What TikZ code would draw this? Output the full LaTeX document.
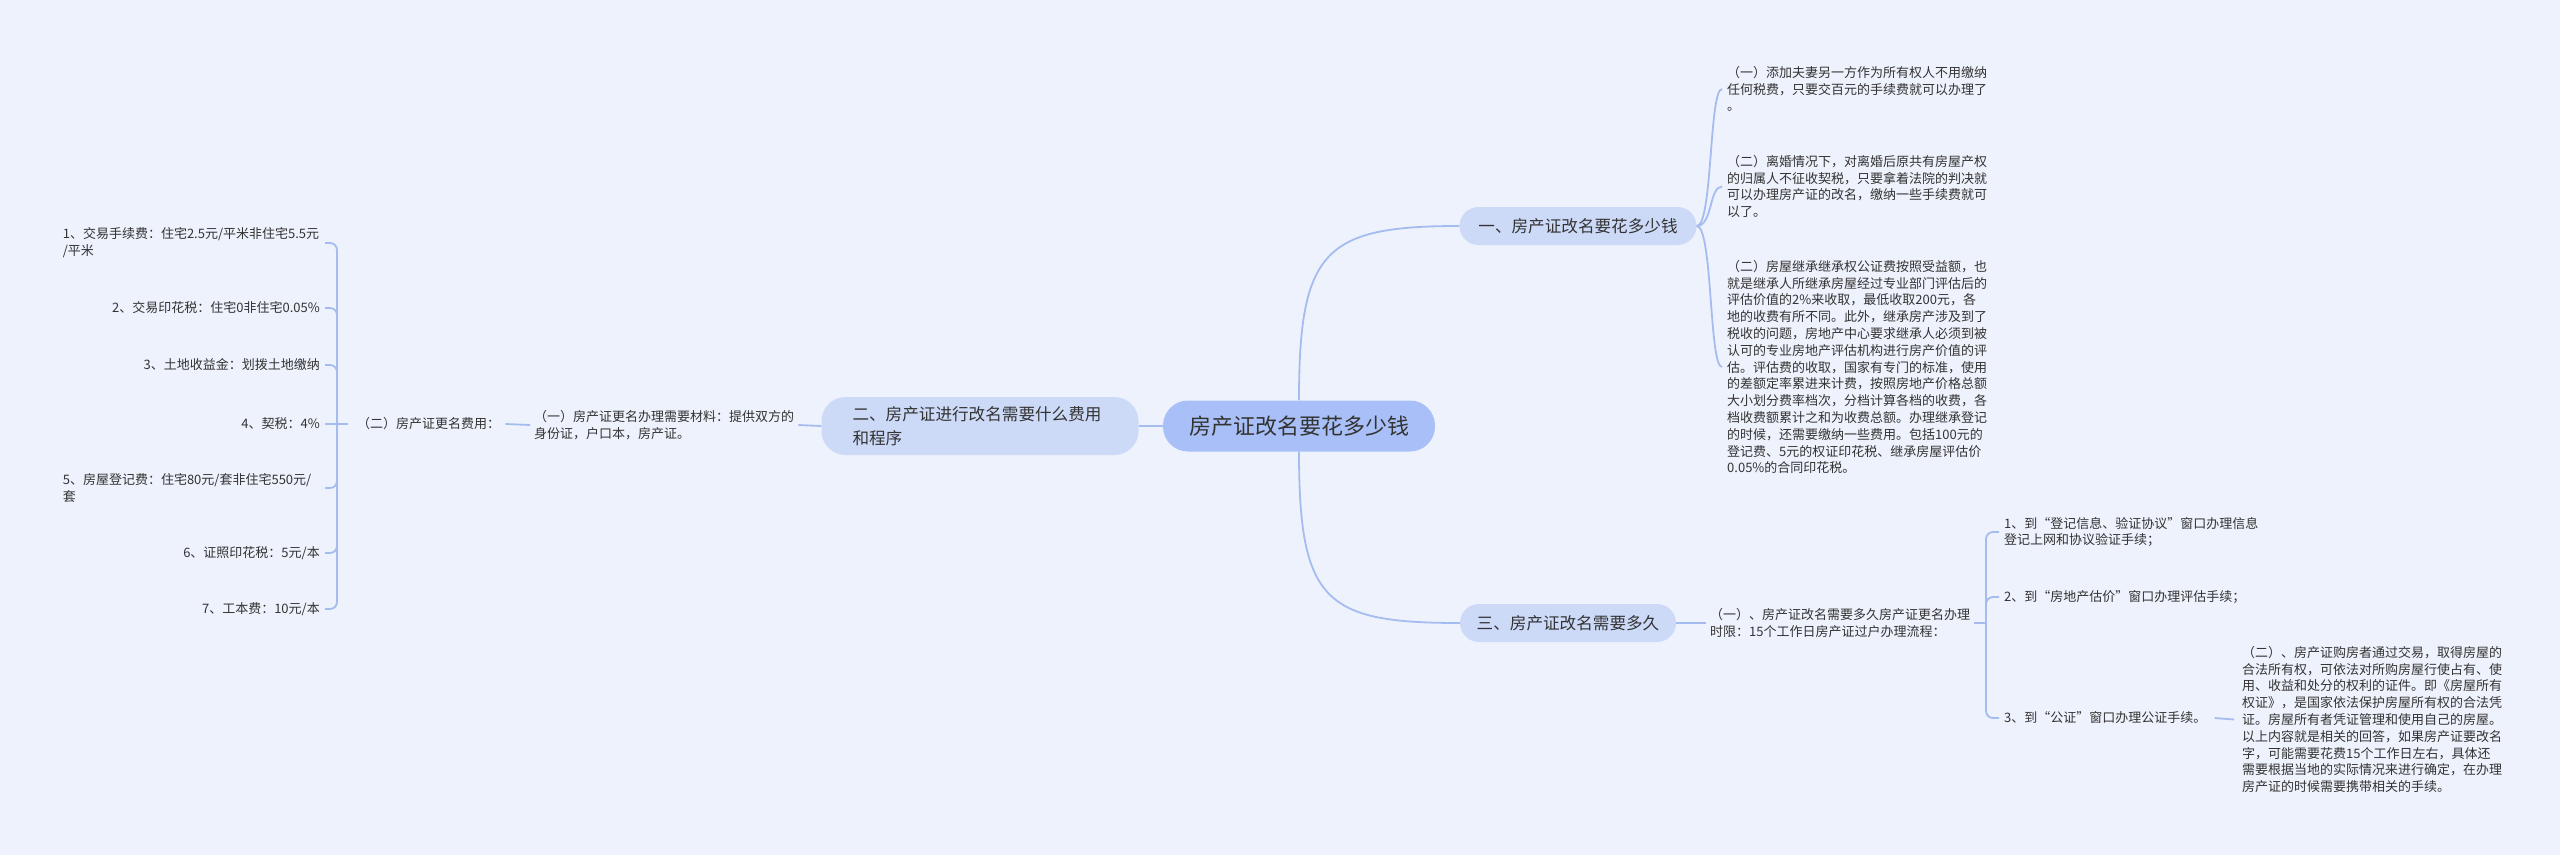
\documentclass[tikz,border=0pt]{standalone}
\usepackage{fontspec}
\newfontfamily\cjk{Noto Sans CJK SC}
\definecolor{bgc}{HTML}{EEF2FC}
\definecolor{rootc}{HTML}{A8C0F7}
\definecolor{lonec}{HTML}{CCDAF8}
\definecolor{lc}{HTML}{A5BCF0}
\definecolor{txt}{HTML}{333333}
\begin{document}
\begin{tikzpicture}[x=1pt,y=-1pt,
  small/.style={font=\cjk\fontsize{13}{16.8}\selectfont, text=txt, inner sep=0pt, align=left},
  rootbox/.style={fill=rootc, rounded corners=25pt, minimum height=51pt, minimum width=272pt, inner sep=0pt, font=\cjk\fontsize{22}{26}\selectfont, text=txt},
  lvlbox/.style={fill=lonec, rounded corners=19pt, minimum height=38pt, inner sep=0pt, font=\cjk\fontsize{16.6}{24}\selectfont, text=txt},
  conn/.style={draw=lc, line width=1.8pt},
]
\fill[bgc] (0,0) rectangle (2560,855);
\useasboundingbox (0,0) rectangle (2560,855);

% root and level one
\node[rootbox] (root) at (1299,426) {房产证改名要花多少钱};
\node[lvlbox, minimum width=237pt] (b1) at (1578,226) {一、房产证改名要花多少钱};
\node[lvlbox, minimum width=216pt] (b3) at (1568,623) {三、房产证改名需要多久};
\node[lvlbox, rounded corners=24pt, minimum height=58pt, text width=255pt, inner xsep=31pt, align=left] (b2) at (980,426) {二、房产证进行改名需要什么费用\\和程序};

% branch two
\node[small, anchor=west] (m1) at (534,425) {（一）房产证更名办理需要材料：提供双方的\\身份证，户口本，房产证。};
\node[small, anchor=west] (fee) at (357,424) {（二）房产证更名费用：};
\node[small, anchor=east, text width=257pt] (i1) at (320,243) {1、交易手续费：住宅2.5元/平米非住宅5.5元\\/平米};
\node[small, anchor=east] (i2) at (320,308) {2、交易印花税：住宅0非住宅0.05\%};
\node[small, anchor=east] (i3) at (320,365) {3、土地收益金：划拨土地缴纳};
\node[small, anchor=east] (i4) at (320,424) {4、契税：4\%};
\node[small, anchor=east, text width=257pt] (i5) at (320,488) {5、房屋登记费：住宅80元/套非住宅550元/\\套};
\node[small, anchor=east] (i6) at (320,553) {6、证照印花税：5元/本};
\node[small, anchor=east] (i7) at (320,609) {7、工本费：10元/本};
\coordinate (bk1) at (337,424);

% branch one
\node[small, anchor=west] (t1) at (1727,89) {（一）添加夫妻另一方作为所有权人不用缴纳\\任何税费，只要交百元的手续费就可以办理了\\。};
\node[small, anchor=west] (t2) at (1727,186.5) {（二）离婚情况下，对离婚后原共有房屋产权\\的归属人不征收契税，只要拿着法院的判决就\\可以办理房产证的改名，缴纳一些手续费就可\\以了。};
\node[small, anchor=west] (t3) at (1727,367) {（二）房屋继承继承权公证费按照受益额，也\\就是继承人所继承房屋经过专业部门评估后的\\评估价值的2\%来收取，最低收取200元，各\\地的收费有所不同。此外，继承房产涉及到了\\税收的问题，房地产中心要求继承人必须到被\\认可的专业房地产评估机构进行房产价值的评\\估。评估费的收取，国家有专门的标准，使用\\的差额定率累进来计费，按照房地产价格总额\\大小划分费率档次，分档计算各档的收费，各\\档收费额累计之和为收费总额。办理继承登记\\的时候，还需要缴纳一些费用。包括100元的\\登记费、5元的权证印花税、继承房屋评估价\\0.05\%的合同印花税。};

% branch three
\node[small, anchor=west] (s1) at (1710,623) {（一）、房产证改名需要多久房产证更名办理\\时限：15个工作日房产证过户办理流程：};
\node[small, anchor=west] (c1) at (2004,532) {1、到“登记信息、验证协议”窗口办理信息\\登记上网和协议验证手续；};
\node[small, anchor=west] (c2) at (2004,597) {2、到“房地产估价”窗口办理评估手续；};
\node[small, anchor=west] (c3) at (2004,718) {3、到“公证”窗口办理公证手续。};
\node[small, anchor=west] (s2) at (2242,719.5) {（二）、房产证购房者通过交易，取得房屋的\\合法所有权，可依法对所购房屋行使占有、使\\用、收益和处分的权利的证件。即《房屋所有\\权证》，是国家依法保护房屋所有权的合法凭\\证。房屋所有者凭证管理和使用自己的房屋。\\以上内容就是相关的回答，如果房产证要改名\\字，可能需要花费15个工作日左右，具体还\\需要根据当地的实际情况来进行确定，在办理\\房产证的时候需要携带相关的手续。};
\coordinate (bk3) at (1986,623);

% connectors: root
\draw[conn] (root.north) .. controls +(0,-150) and +(-135,0) .. (b1.west);
\draw[conn] (root.south) .. controls +(0,150) and +(-135,0) .. (b3.west);
\draw[conn] (root.west) -- (b2.east);

% connectors: branch two
\draw[conn] (b2.west) -- ([xshift=4pt]m1.east);
\draw[conn] ([xshift=-4pt]m1.west) -- ([xshift=5pt]fee.east);
\draw[conn] ([xshift=-9pt]fee.west) -- (bk1);
\foreach \n in {i1,i2,i3,i5,i6,i7}{
  \draw[conn, rounded corners=7pt] (bk1) |- ([xshift=5pt]\n.east);
}
\draw[conn] (bk1) -- ([xshift=5pt]i4.east);

% connectors: branch one
\foreach \n in {t1,t2,t3}{
  \draw[conn] (b1.east) .. controls +(16,0) and ([xshift=-18pt]\n.west) .. ([xshift=-5pt]\n.west);
}

% connectors: branch three
\draw[conn] (b3.east) -- ([xshift=-4pt]s1.west);
\draw[conn] ([xshift=4pt]s1.east) -- (bk3);
\draw[conn, rounded corners=7pt] (bk3) |- ([xshift=-5pt]c1.west);
\draw[conn, rounded corners=7pt] (bk3) |- ([xshift=-5pt]c2.west);
\draw[conn, rounded corners=7pt] (bk3) |- ([xshift=-5pt]c3.west);
\draw[conn] ([xshift=8pt]c3.east) -- ([xshift=-8pt]s2.west);
\end{tikzpicture}
\end{document}
